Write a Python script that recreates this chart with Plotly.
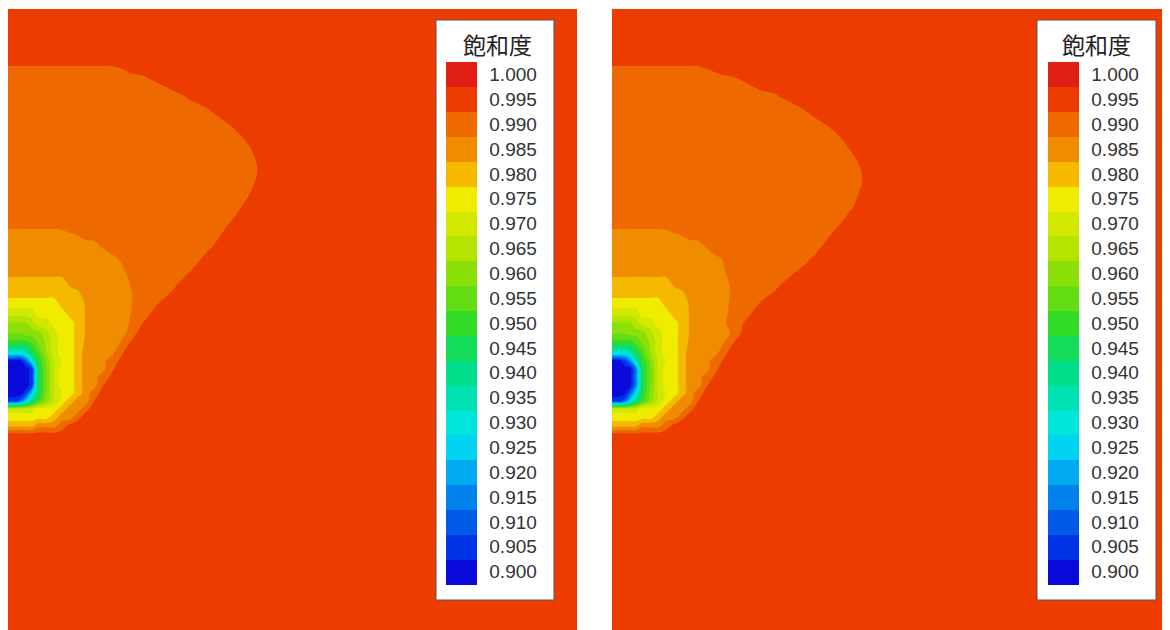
import plotly.graph_objects as go

# ---------------- data ----------------
levels = [0.900, 0.905, 0.910, 0.915, 0.920, 0.925, 0.930, 0.935, 0.940, 0.945,
          0.950, 0.955, 0.960, 0.965, 0.970, 0.975, 0.980, 0.985, 0.990, 0.995, 1.000]
level_labels = ["0.900", "0.905", "0.910", "0.915", "0.920", "0.925", "0.930", "0.935",
                "0.940", "0.945", "0.950", "0.955", "0.960", "0.965", "0.970", "0.975",
                "0.980", "0.985", "0.990", "0.995", "1.000"]
level_colors = ["#0A0ADC", "#0032E6", "#005AE8", "#0082EC", "#00AAF0", "#00D2F0", "#00E6DC",
                "#00E2B4", "#00DE8C", "#14DC5A", "#32DC28", "#64DE14", "#8CE00A", "#B4E400",
                "#D2E800", "#F0EC00", "#F5B900", "#F08C00", "#EE6A00", "#EC3C00", "#E11E14"]

# sample positions (horizontal distance, depth)
x_pos = [0, 6, 12, 18, 24, 30, 38, 46, 54, 62, 70, 78, 86, 94, 102, 112, 122, 134, 148, 164,
         182, 200, 218, 238, 254, 270, 300, 360, 460, 569]
y_pos = [0, 40, 52, 62, 74, 88, 102, 116, 130, 144, 158, 172, 186, 200, 214, 226, 238, 250,
         262, 274, 284, 294, 304, 314, 324, 334, 344, 352, 360, 368, 376, 384, 392, 400, 408,
         416, 426, 460, 540, 629]

# saturation x 1000, left case
sat_left = [
 [995,995,995,995,995,995,995,995,995,995, 995,995,995,995,995,995,995,995,995,995, 995,995,995,995,995,995,995,995,995,995],
 [995,995,995,995,995,995,995,995,995,995, 995,995,995,995,995,995,995,995,995,995, 995,995,995,995,995,995,995,995,995,995],
 [995,995,995,995,995,995,995,995,995,995, 995,995,995,995,995,995,995,995,995,995, 995,995,995,995,995,995,995,995,995,995],
 [990,990,990,990,990,990,990,990,990,990, 990,990,990,990,990,991.4,993.0,994.0,995,995, 995,995,995,995,995,995,995,995,995,995],
 [990,990,990,990,990,990,990,990,990,990, 990,990,990,990,990,990,990,990,992.3,995, 995,995,995,995,995,995,995,995,995,995],
 [990,990,990,990,990,990,990,990,990,990, 990,990,990,990,990,990,990,990,990,990, 993.2,995,995,995,995,995,995,995,995,995],
 [990,990,990,990,990,990,990,990,990,990, 990,990,990,990,990,990,990,990,990,990, 990,992.0,995,995,995,995,995,995,995,995],
 [990,990,990,990,990,990,990,990,990,990, 990,990,990,990,990,990,990,990,990,990, 990,990,991.9,995,995,995,995,995,995,995],
 [990,990,990,990,990,990,990,990,990,990, 990,990,990,990,990,990,990,990,990,990, 990,990,990,992.8,995,995,995,995,995,995],
 [990,990,990,990,990,990,990,990,990,990, 990,990,990,990,990,990,990,990,990,990, 990,990,990,990.6,995,995,995,995,995,995],
 [990,990,990,990,990,990,990,990,990,990, 990,990,990,990,990,990,990,990,990,990, 990,990,990,990,993.6,995,995,995,995,995],
 [990,990,990,990,990,990,990,990,990,990, 990,990,990,990,990,990,990,990,990,990, 990,990,990,990,994.4,995,995,995,995,995],
 [990,990,990,990,990,990,990,990,990,990, 990,990,990,990,990,990,990,990,990,990, 990,990,990,991.9,995,995,995,995,995,995],
 [990,990,990,990,990,990,990,990,990,990, 990,990,990,990,990,990,990,990,990,990, 990,990,990,993.6,995,995,995,995,995,995],
 [990,990,990,990,990,990,990,990,990,990, 990,990,990,990,990,990,990,990,990,990, 990,990,991.9,995,995,995,995,995,995,995],
 [985,985,985,985,985,985,985,985,985.7,987.0, 987.7,989.3,990,990,990,990,990,990,990,990, 990,990,993.5,995,995,995,995,995,995,995],
 [985,985,985,985,985,985,985,985,985,985, 985,985,985,987.7,990,990,990,990,990,990, 990,991.8,995,995,995,995,995,995,995,995],
 [985,985,985,985,985,985,985,985,985,985, 985,985,985,985,985,988.0,990,990,990,990, 990,994.1,995,995,995,995,995,995,995,995],
 [985,985,985,985,985,985,985,985,985,985, 985,985,985,985,985,985,990,990,990,990, 992.4,995,995,995,995,995,995,995,995,995],
 [980,980,980,980,980,980,980,980,980,984.0, 985,985,985,985,985,985,987.6,990,990,991.0, 995,995,995,995,995,995,995,995,995,995],
 [980,980,980,980,980,980,980,980,980,980, 981.7,985,985,985,985,985,987.0,990,990,992.9, 995,995,995,995,995,995,995,995,995,995],
 [975,975,975,975,975,975,975,975,980,980, 980,983.3,985,985,985,985,987.0,990,991.9,995, 995,995,995,995,995,995,995,995,995,995],
 [970,970,970,970,970,975,975,975,975,980, 980,982.9,985,985,985,985,987.3,990,993.9,995, 995,995,995,995,995,995,995,995,995,995],
 [962,962,962,962,966,970,970,975,975,975, 980,982.9,985,985,985,985,987.8,992.3,995,995, 995,995,995,995,995,995,995,995,995,995],
 [958,958,958,960,960,960,966,970,975,975, 980,982.9,985,985,985,985,989.2,995,995,995, 995,995,995,995,995,995,995,995,995,995],
 [950,950,950,950,953,958,963,970,975,975, 980,983.3,985,985,985,987.6,992.8,995,995,995, 995,995,995,995,995,995,995,995,995,995],
 [930,930,930,935,945,952,962,970,975,975, 980,985,985,985,985,991.4,995,995,995,995, 995,995,995,995,995,995,995,995,995,995],
 [900,900,900,910,930,948,958,968,973,975, 980,985,985,985,990,993.1,995,995,995,995, 995,995,995,995,995,995,995,995,995,995],
 [900,900,900,900,905,945,957,968,975,975, 980,985,985,985,990.8,995,995,995,995,995, 995,995,995,995,995,995,995,995,995,995],
 [900,900,900,900,905,945,957,968,975,975, 980,985,985,990,992.9,995,995,995,995,995, 995,995,995,995,995,995,995,995,995,995],
 [900,900,900,900,905,945,957,968,975,975, 980,985,985,991.7,995,995,995,995,995,995, 995,995,995,995,995,995,995,995,995,995],
 [900,900,900,905,925,945,958,968,973,975, 980,985,990,994.0,995,995,995,995,995,995, 995,995,995,995,995,995,995,995,995,995],
 [905,905,910,925,940,950,960,968,975,980, 985,985,992.4,995,995,995,995,995,995,995, 995,995,995,995,995,995,995,995,995,995],
 [970,970,970,970,970,975,975,975,980,985, 985,991.0,995,995,995,995,995,995,995,995, 995,995,995,995,995,995,995,995,995,995],
 [975,975,975,975,975,975,975,980,985,985, 991.0,995,995,995,995,995,995,995,995,995, 995,995,995,995,995,995,995,995,995,995],
 [980,980,980,980,980,985,985,985,990,993.3, 995,995,995,995,995,995,995,995,995,995, 995,995,995,995,995,995,995,995,995,995],
 [995,995,995,995,995,995,995,995,995,995, 995,995,995,995,995,995,995,995,995,995, 995,995,995,995,995,995,995,995,995,995],
 [995,995,995,995,995,995,995,995,995,995, 995,995,995,995,995,995,995,995,995,995, 995,995,995,995,995,995,995,995,995,995],
 [995,995,995,995,995,995,995,995,995,995, 995,995,995,995,995,995,995,995,995,995, 995,995,995,995,995,995,995,995,995,995],
 [995,995,995,995,995,995,995,995,995,995, 995,995,995,995,995,995,995,995,995,995, 995,995,995,995,995,995,995,995,995,995],
]

# saturation x 1000, right case
sat_right = [
 [995,995,995,995,995,995,995,995,995,995, 995,995,995,995,995,995,995,995,995,995, 995,995,995,995,995,995,995,995,995,995],
 [995,995,995,995,995,995,995,995,995,995, 995,995,995,995,995,995,995,995,995,995, 995,995,995,995,995,995,995,995,995,995],
 [995,995,995,995,995,995,995,995,995,995, 995,995,995,995,995,995,995,995,995,995, 995,995,995,995,995,995,995,995,995,995],
 [990,990,990,990,990,990,990,990,990,990, 990,990,990,991.8,992.7,993.8,995,995,995,995, 995,995,995,995,995,995,995,995,995,995],
 [990,990,990,990,990,990,990,990,990,990, 990,990,990,990,990,990,990,992.4,995,995, 995,995,995,995,995,995,995,995,995,995],
 [990,990,990,990,990,990,990,990,990,990, 990,990,990,990,990,990,990,990,990,991.8, 995,995,995,995,995,995,995,995,995,995],
 [990,990,990,990,990,990,990,990,990,990, 990,990,990,990,990,990,990,990,990,990, 990,993.8,995,995,995,995,995,995,995,995],
 [990,990,990,990,990,990,990,990,990,990, 990,990,990,990,990,990,990,990,990,990, 990,990,993.2,995,995,995,995,995,995,995],
 [990,990,990,990,990,990,990,990,990,990, 990,990,990,990,990,990,990,990,990,990, 990,990,990,994.2,995,995,995,995,995,995],
 [990,990,990,990,990,990,990,990,990,990, 990,990,990,990,990,990,990,990,990,990, 990,990,990,992.1,995,995,995,995,995,995],
 [990,990,990,990,990,990,990,990,990,990, 990,990,990,990,990,990,990,990,990,990, 990,990,990,990,994.0,995,995,995,995,995],
 [990,990,990,990,990,990,990,990,990,990, 990,990,990,990,990,990,990,990,990,990, 990,990,990,990,993.3,995,995,995,995,995],
 [990,990,990,990,990,990,990,990,990,990, 990,990,990,990,990,990,990,990,990,990, 990,990,990,990,995,995,995,995,995,995],
 [990,990,990,990,990,990,990,990,990,990, 990,990,990,990,990,990,990,990,990,990, 990,990,990,992.1,995,995,995,995,995,995],
 [990,990,990,990,990,990,990,990,990,990, 990,990,990,990,990,990,990,990,990,990, 990,990,990,994.5,995,995,995,995,995,995],
 [985,985,985,985,985,985,985,985,985.7,987.0, 987.7,989.3,990,990,990,990,990,990,990,990, 990,990,992.4,995,995,995,995,995,995,995],
 [985,985,985,985,985,985,985,985,985,985, 985,985,985,987.7,990,990,990,990,990,990, 990,990,995,995,995,995,995,995,995,995],
 [985,985,985,985,985,985,985,985,985,985, 985,985,985,985,985.8,988.0,990,990,990,990, 990,992.7,995,995,995,995,995,995,995,995],
 [985,985,985,985,985,985,985,985,985,985, 985,985,985,985,985,987.2,990,990,990,990, 992.0,995,995,995,995,995,995,995,995,995],
 [980,980,980,980,980,980,980,980,980,984.0, 985,985,985,985,985,985,990,990,990,991.0, 995,995,995,995,995,995,995,995,995,995],
 [980,980,980,980,980,980,980,980,980,980, 981.7,985,985,985,985,985,989.2,990,990,993.3, 995,995,995,995,995,995,995,995,995,995],
 [975,975,975,975,975,975,975,975,980,980, 980,983.3,985,985,985,985,990,990,992.6,995, 995,995,995,995,995,995,995,995,995,995],
 [970,970,970,970,970,975,975,975,975,980, 980,982.9,985,985,985,985.8,990,990.7,995,995, 995,995,995,995,995,995,995,995,995,995],
 [962,962,962,962,966,970,970,975,975,975, 980,982.9,985,985,985,986.9,990,993.3,995,995, 995,995,995,995,995,995,995,995,995,995],
 [958,958,958,960,960,960,966,970,975,975, 980,982.9,985,985,985,985,989.2,995,995,995, 995,995,995,995,995,995,995,995,995,995],
 [950,950,950,950,953,958,963,970,975,975, 980,983.3,985,985,985,987.6,992.8,995,995,995, 995,995,995,995,995,995,995,995,995,995],
 [930,930,930,935,945,952,962,970,975,975, 980,985,985,985,985,991.4,995,995,995,995, 995,995,995,995,995,995,995,995,995,995],
 [900,900,905,915,935,948,958,968,973,975, 980,985,985,985,990,993.1,995,995,995,995, 995,995,995,995,995,995,995,995,995,995],
 [900,900,900,900,915,945,957,968,975,975, 980,985,985,985,990.8,995,995,995,995,995, 995,995,995,995,995,995,995,995,995,995],
 [900,900,900,900,915,945,957,968,975,975, 980,985,985,990,992.9,995,995,995,995,995, 995,995,995,995,995,995,995,995,995,995],
 [900,900,900,900,915,945,957,968,975,975, 980,985,985,991.7,995,995,995,995,995,995, 995,995,995,995,995,995,995,995,995,995],
 [900,900,900,910,928,947,958,968,973,975, 980,985,990,994.0,995,995,995,995,995,995, 995,995,995,995,995,995,995,995,995,995],
 [905,905,910,925,940,950,960,968,975,980, 985,985,992.4,995,995,995,995,995,995,995, 995,995,995,995,995,995,995,995,995,995],
 [970,970,970,970,970,975,975,975,980,985, 985,991.0,995,995,995,995,995,995,995,995, 995,995,995,995,995,995,995,995,995,995],
 [975,975,975,975,975,975,975,980,985,985, 991.0,995,995,995,995,995,995,995,995,995, 995,995,995,995,995,995,995,995,995,995],
 [980,980,980,980,980,985,985,985,990,993.3, 995,995,995,995,995,995,995,995,995,995, 995,995,995,995,995,995,995,995,995,995],
 [995,995,995,995,995,995,995,995,995,995, 995,995,995,995,995,995,995,995,995,995, 995,995,995,995,995,995,995,995,995,995],
 [995,995,995,995,995,995,995,995,995,995, 995,995,995,995,995,995,995,995,995,995, 995,995,995,995,995,995,995,995,995,995],
 [995,995,995,995,995,995,995,995,995,995, 995,995,995,995,995,995,995,995,995,995, 995,995,995,995,995,995,995,995,995,995],
 [995,995,995,995,995,995,995,995,995,995, 995,995,995,995,995,995,995,995,995,995, 995,995,995,995,995,995,995,995,995,995],
]

legend_title = "飽和度"

# ---------------- figure ----------------
W, H = 1170, 630
step = round(levels[1] - levels[0], 6)
n = len(levels)
c_start = levels[0] - step / 2
c_end = levels[-1] + step / 2

# contour fill colours: band k (around levels[k]) -> position (k+1)/(n+1)
colorscale = [[0.0, "#ffffff"]]
for k, c in enumerate(level_colors):
    colorscale.append([(k + 1) / (n + 1), c])
colorscale.append([1.0, "#ffffff"])

band_px = 522 / n
cb_len = band_px * (n + 1)          # includes half-band white ends
cb_top = 54 - band_px / 2


def cbar(bar_left_px):
    return dict(
        x=bar_left_px / W, xanchor="left", xref="paper", xpad=0,
        y=1 - cb_top / H, yanchor="top", yref="paper", ypad=0,
        len=cb_len, lenmode="pixels", thickness=31, thicknessmode="pixels",
        outlinewidth=0, borderwidth=0, bgcolor="rgba(0,0,0,0)",
        tickmode="array", tickvals=levels, ticktext=level_labels,
        ticks="outside", ticklen=9, tickcolor="rgba(0,0,0,0)",
        tickfont=dict(family="Liberation Sans, Arial, sans-serif", size=19, color="#333333"),
    )


fig = go.Figure()
for sat, xa, ya, bar_left in [(sat_left, "x", "y", 438), (sat_right, "x2", "y2", 1040)]:
    fig.add_trace(go.Contour(
        x=x_pos, y=y_pos, z=[[v / 1000 for v in row] for row in sat],
        autocontour=False,
        contours=dict(start=c_start, end=c_end, size=step, coloring="fill", showlines=False),
        line=dict(width=0, smoothing=1.2),
        colorscale=colorscale,
        xaxis=xa, yaxis=ya, hoverinfo="skip", colorbar=cbar(bar_left),
    ))

ax_common = dict(visible=False, showgrid=False, zeroline=False, fixedrange=True)
fig.update_layout(
    width=W, height=H,
    margin=dict(l=0, r=0, t=0, b=0, autoexpand=False),
    paper_bgcolor="white", plot_bgcolor="white",
    xaxis=dict(domain=[0, 569 / W], range=[0, 569], **ax_common),
    yaxis=dict(domain=[0, 1 - 1 / H], range=[629, 0], **ax_common),
    xaxis2=dict(domain=[604 / W, 1], range=[0, 566], anchor="y2", **ax_common),
    yaxis2=dict(domain=[0, 1 - 1 / H], range=[629, 0], anchor="x2", **ax_common),
    showlegend=False,
)

for box_l, box_r, title_cx in [(428, 546, 489), (1029, 1148, 1088)]:
    fig.add_shape(type="rect", xref="paper", yref="paper",
                  x0=box_l / W, x1=box_r / W, y0=1 - 592 / H, y1=1 - 12 / H,
                  fillcolor="white", line=dict(color="#555555", width=1), layer="above")
    fig.add_annotation(text=legend_title, xref="paper", yref="paper",
                       x=title_cx / W, y=1 - 35.5 / H, xanchor="center", yanchor="middle",
                       showarrow=False,
                       font=dict(family="Noto Sans CJK JP", size=23, color="#222222"))

fig.write_html("out.html", default_width="1170px", default_height="630px")
